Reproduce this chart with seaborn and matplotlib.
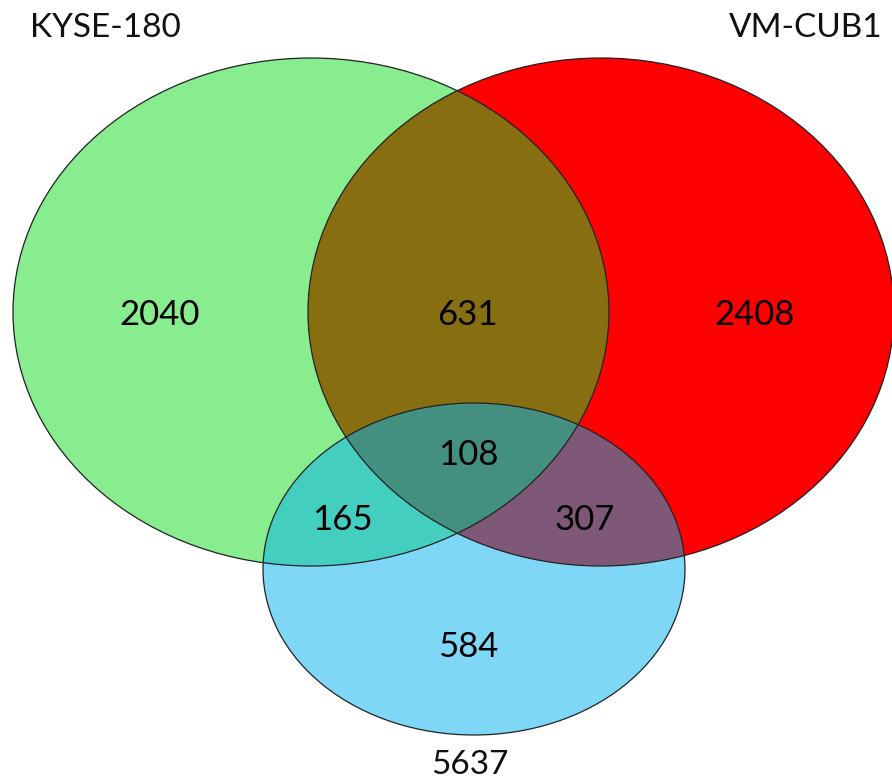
import matplotlib
matplotlib.use("Agg")
import matplotlib.pyplot as plt
from matplotlib.patches import Ellipse
import seaborn as sns

# data
set_names = ["KYSE-180", "VM-CUB1", "5637"]
region_labels = ["KYSE-180 only", "KYSE-180 & VM-CUB1", "VM-CUB1 only",
                 "all three", "KYSE-180 & 5637", "VM-CUB1 & 5637", "5637 only"]
region_counts = [2040, 631, 2408, 108, 165, 307, 584]

# layout (pixel coords, y downwards)
ellipses = {  # center x, center y, width, height, color, alpha
    "VM-CUB1": (601, 312, 586, 508, "#ff0000", 1.0),
    "KYSE-180": (311, 312, 596, 508, "#11dd21", 0.5),
    "5637": (474, 569, 422, 332, "#01b1f1", 0.5),
}
region_pos = [(160, 315), (467, 315), (755, 315), (468, 455),
              (342, 520), (585, 520), (468, 647)]
name_pos = {"KYSE-180": (105, 28), "VM-CUB1": (806, 28), "5637": (470, 765)}

sns.set_style("white")
plt.rcParams['font.family'] = ['Lato', 'DejaVu Sans']

fig = plt.figure(figsize=(8.92, 7.82), dpi=100)
ax = fig.add_axes([0, 0, 1, 1])
ax.set_xlim(0, 892)
ax.set_ylim(782, 0)
ax.axis("off")

for name in ["VM-CUB1", "KYSE-180", "5637"]:
    cx, cy, w, h, col, a = ellipses[name]
    ax.add_patch(Ellipse((cx, cy), w, h, facecolor=col, alpha=a, edgecolor="none"))
for name in ["VM-CUB1", "KYSE-180", "5637"]:
    cx, cy, w, h, col, a = ellipses[name]
    ax.add_patch(Ellipse((cx, cy), w, h, facecolor="none", edgecolor="#222222", lw=0.9))

for (x, y), n in zip(region_pos, region_counts):
    ax.text(x, y, str(n), ha="center", va="center", fontsize=25, color="black")

for name in set_names:
    x, y = name_pos[name]
    ax.text(x, y, name, ha="center", va="center", fontsize=24, color="#111111")

fig.savefig("out.png", dpi=100)
